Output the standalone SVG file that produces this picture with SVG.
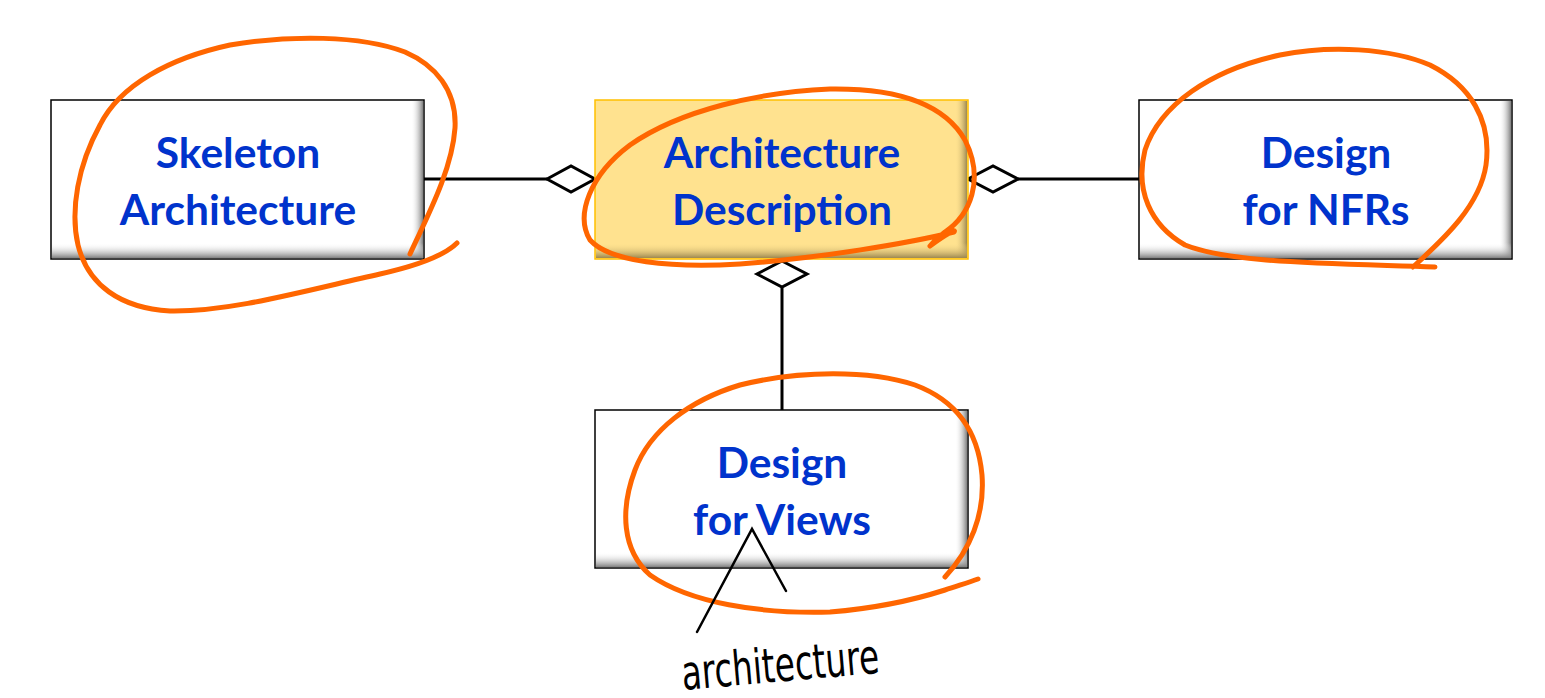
<svg xmlns="http://www.w3.org/2000/svg" width="1545" height="698" viewBox="0 0 1545 698">
<defs>
  <linearGradient id="shR" x1="0" y1="0" x2="1" y2="0">
    <stop offset="0" stop-color="#ffffff" stop-opacity="0"/>
    <stop offset="1" stop-color="#808080"/>
  </linearGradient>
  <linearGradient id="shB" x1="0" y1="0" x2="0" y2="1">
    <stop offset="0" stop-color="#ffffff" stop-opacity="0"/>
    <stop offset="1" stop-color="#808080"/>
  </linearGradient>
  <linearGradient id="shRy" x1="0" y1="0" x2="1" y2="0">
    <stop offset="0" stop-color="#FFE28F" stop-opacity="0"/>
    <stop offset="1" stop-color="#9c8750"/>
  </linearGradient>
  <linearGradient id="shBy" x1="0" y1="0" x2="0" y2="1">
    <stop offset="0" stop-color="#FFE28F" stop-opacity="0"/>
    <stop offset="1" stop-color="#9c8750"/>
  </linearGradient>
</defs>
<style>
  .box { fill: #ffffff; stroke: #000000; stroke-width: 1.5; }
  .ybox { fill: #FFE28F; stroke: #FFC000; stroke-width: 1.5; }
  .lbl { font-family: Lato, "Open Sans", sans-serif; font-weight: bold; font-size: 42.5px; fill: #0033CC; text-anchor: middle; }
  .conn { stroke: #000000; stroke-width: 3; fill: none; }
  .dia { stroke: #000000; stroke-width: 3; fill: #ffffff; stroke-linejoin: miter; }
  .ink { stroke: #FF6600; stroke-width: 5; fill: none; stroke-linecap: round; stroke-linejoin: round; }
  .pen { stroke: #000000; stroke-width: 2.5; fill: none; stroke-linecap: round; }
  .hand { font-family: "DejaVu Sans", sans-serif; font-size: 48px; fill: #000000; }
</style>

<g id="connectors">
  <line class="conn" x1="424" y1="179" x2="547" y2="179"/>
  <polygon class="dia" points="547,179 571,166 595,179 571,192"/>
  <line class="conn" x1="1018" y1="179" x2="1139" y2="179"/>
  <polygon class="dia" points="968,179 993,166 1018,179 993,192"/>
  <line class="conn" x1="782" y1="288" x2="782" y2="410"/>
  <polygon class="dia" points="782,261 807,274 782,287 757,274"/>
</g>

<g id="skeleton">
  <rect class="box" x="51" y="100" width="373" height="159"/>
  <rect x="411" y="101" width="12" height="157" fill="url(#shR)"/>
  <rect x="52" y="243" width="371" height="15" fill="url(#shB)"/>
  <text class="lbl" x="238" y="168">Skeleton</text>
  <text class="lbl" x="238" y="225">Architecture</text>
</g>

<g id="archdesc">
  <rect class="ybox" x="595" y="100" width="373" height="159"/>
  <rect x="955" y="101" width="12" height="157" fill="url(#shRy)"/>
  <rect x="596" y="243" width="371" height="15" fill="url(#shBy)"/>
  <text class="lbl" x="782" y="168">Architecture</text>
  <text class="lbl" x="782" y="225">Description</text>
</g>

<g id="nfrs">
  <rect class="box" x="1139" y="100" width="373" height="159"/>
  <rect x="1499" y="101" width="12" height="157" fill="url(#shR)"/>
  <rect x="1140" y="243" width="371" height="15" fill="url(#shB)"/>
  <text class="lbl" x="1326" y="168">Design</text>
  <text class="lbl" x="1326" y="225">for NFRs</text>
</g>

<g id="views">
  <rect class="box" x="595" y="410" width="373" height="158"/>
  <rect x="955" y="411" width="12" height="156" fill="url(#shR)"/>
  <rect x="596" y="552" width="371" height="15" fill="url(#shB)"/>
  <text class="lbl" x="782" y="478">Design</text>
  <text class="lbl" x="782" y="535">for Views</text>
</g>

<g id="annotations">
  <path class="ink" d="M410,254 C428,215 452,170 455,128 C457,90 435,65 405,52 C360,35 290,35 230,45 C170,58 120,85 100,125 C78,165 70,210 78,245 C88,285 120,308 170,311 C230,312 300,292 380,274 C420,265 445,255 457,243"/>
  <path class="ink" d="M930,246 C945,235 957,228 954,232 C910,243 820,258 740,264 C670,268 610,262 590,240 C575,215 590,175 630,145 C680,110 760,92 830,89 C900,88 945,105 965,140 C985,180 970,215 945,232 C935,240 930,246 930,246"/>
  <path class="ink" d="M1413,267 C1445,238 1480,205 1486,165 C1492,120 1470,85 1430,65 C1390,48 1330,45 1280,55 C1210,70 1160,105 1145,150 C1135,190 1150,225 1185,245 C1230,263 1320,263 1435,267"/>
  <path class="ink" d="M945,577 C970,550 985,515 982,475 C978,430 955,400 915,385 C870,370 800,370 740,385 C690,400 650,430 635,470 C620,510 622,550 650,575 C690,603 760,614 830,612 C880,608 920,598 945,590 C960,585 970,582 978,579"/>
  <polyline class="pen" points="697,632 752,529 786,591"/>
  <text class="hand" x="683" y="690" textLength="198" lengthAdjust="spacingAndGlyphs" transform="rotate(-5 683 690)">architecture</text>
</g>
</svg>
